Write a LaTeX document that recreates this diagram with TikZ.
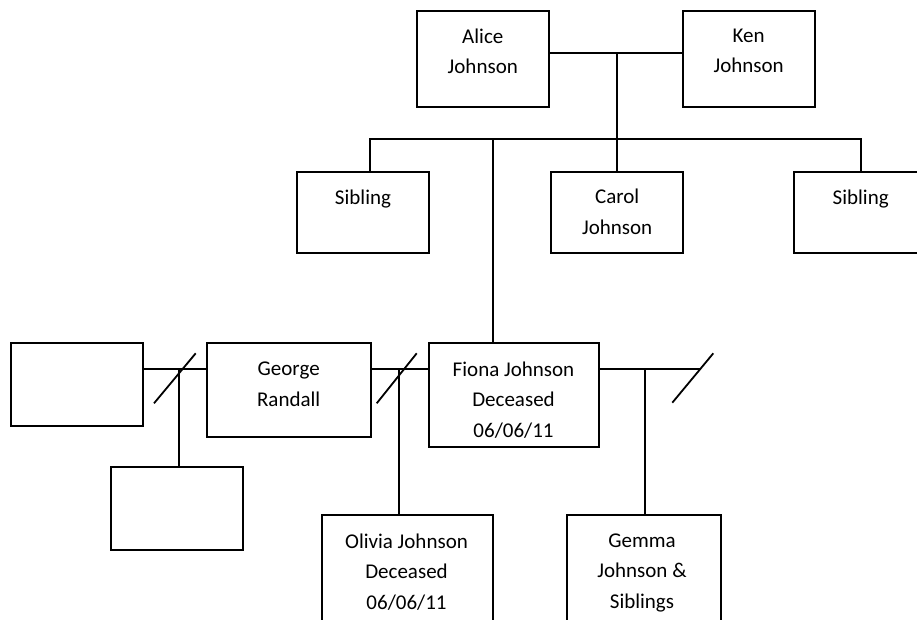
\documentclass[tikz,border=0pt]{standalone}
\usepackage{fontspec}
\setmainfont{Carlito}
\begin{document}
\begin{tikzpicture}[x=1pt,y=-1pt,
  box/.style={draw, line width=1.8pt, rectangle, inner sep=0pt},
  ln/.style={line width=1.8pt},
  txt/.style={anchor=north, inner sep=0pt, align=center, font=\fontsize{21}{30.5}\selectfont, execute at begin node=\strut}]
\useasboundingbox (0,0) rectangle (917,619);
\clip (0,0) rectangle (917,619);
% boxes
\node[box, minimum width=132.3pt, minimum height=96pt] (alice) at (482.8,59) {};
\node[box, minimum width=132pt, minimum height=96pt] (ken) at (748.7,59) {};
\node[box, minimum width=132.7pt, minimum height=81.6pt] (sibA) at (363,212.5) {};
\node[box, minimum width=132.3pt, minimum height=81.6pt] (carol) at (617.2,212.5) {};
\node[box, minimum width=132pt, minimum height=81.6pt] (sibB) at (860,212.5) {};
\node[box, minimum width=132.6pt, minimum height=82.4pt] (exA) at (77,384.5) {};
\node[box, minimum width=132.3pt, minimum height=83.3pt] (exB) at (176.9,508.3) {};
\node[box, minimum width=164pt, minimum height=94pt] (george) at (288.7,390.3) {};
\node[box, minimum width=170pt, minimum height=104pt] (fiona) at (514,395.3) {};
\node[box, minimum width=170.4pt, minimum height=140pt] (olivia) at (407.5,585) {};
\node[box, minimum width=153.7pt, minimum height=140pt] (gemma) at (644.2,585) {};
% texts
\node[txt] (alicet) at (482.8,28.5) {Alice\\Johnson};
\node[txt] (kent) at (748.7,28.5) {Ken\\Johnson};
\node[txt] (sibAt) at (363,182.5) {Sibling};
\node[txt] (carolt) at (617.2,189) {Carol\\Johnson};
\node[txt] (sibBt) at (860.7,182.5) {Sibling};
\node[txt] (georget) at (288.7,361.8) {George\\Randall};
\node[txt] (fionat) at (513.5,361.5) {Fiona Johnson\\Deceased\\06/06/11};
\node[txt] (oliviat) at (406.5,533.5) {Olivia Johnson\\Deceased\\06/06/11};
\node[txt] (gemmat) at (642,533.5) {Gemma\\Johnson \&\\Siblings};
% junction coordinates
\coordinate (m1) at (617.3,53.3);
\coordinate (sl) at (370.2,139.3);
\coordinate (sr) at (861.3,139.3);
\coordinate (fd) at (493,139.3);
\coordinate (j1) at (179,369.3);
\coordinate (j2) at (399,369.3);
\coordinate (j3) at (645,369.3);
\coordinate (e3) at (700,369.3);
% connectors
\draw[ln] (alice.east |- m1) -- (ken.west |- m1);
\draw[ln] (m1) -- (m1 |- carol.north);
\draw[ln] (sibA.north -| sl) -- (sl) -- (sr) -- (sibB.north -| sr);
\draw[ln] (fd) -- (fd |- fiona.north);
\draw[ln] (exA.east |- j1) -- (george.west |- j1);
\draw[ln] (j1) -- (j1 |- exB.north);
\draw[ln] (george.east |- j2) -- (fiona.west |- j2);
\draw[ln] (j2) -- (j2 |- olivia.north);
\draw[ln] (fiona.east |- j3) -- (e3);
\draw[ln] (j3) -- (j3 |- gemma.north);
% divorce / separation slashes
\draw[ln] (154,403.3) -- ++(41.7,-50);
\draw[ln] (376.7,403.3) -- ++(40,-50);
\draw[ln] (672.3,402.7) -- ++(41,-49.4);
\end{tikzpicture}
\end{document}
